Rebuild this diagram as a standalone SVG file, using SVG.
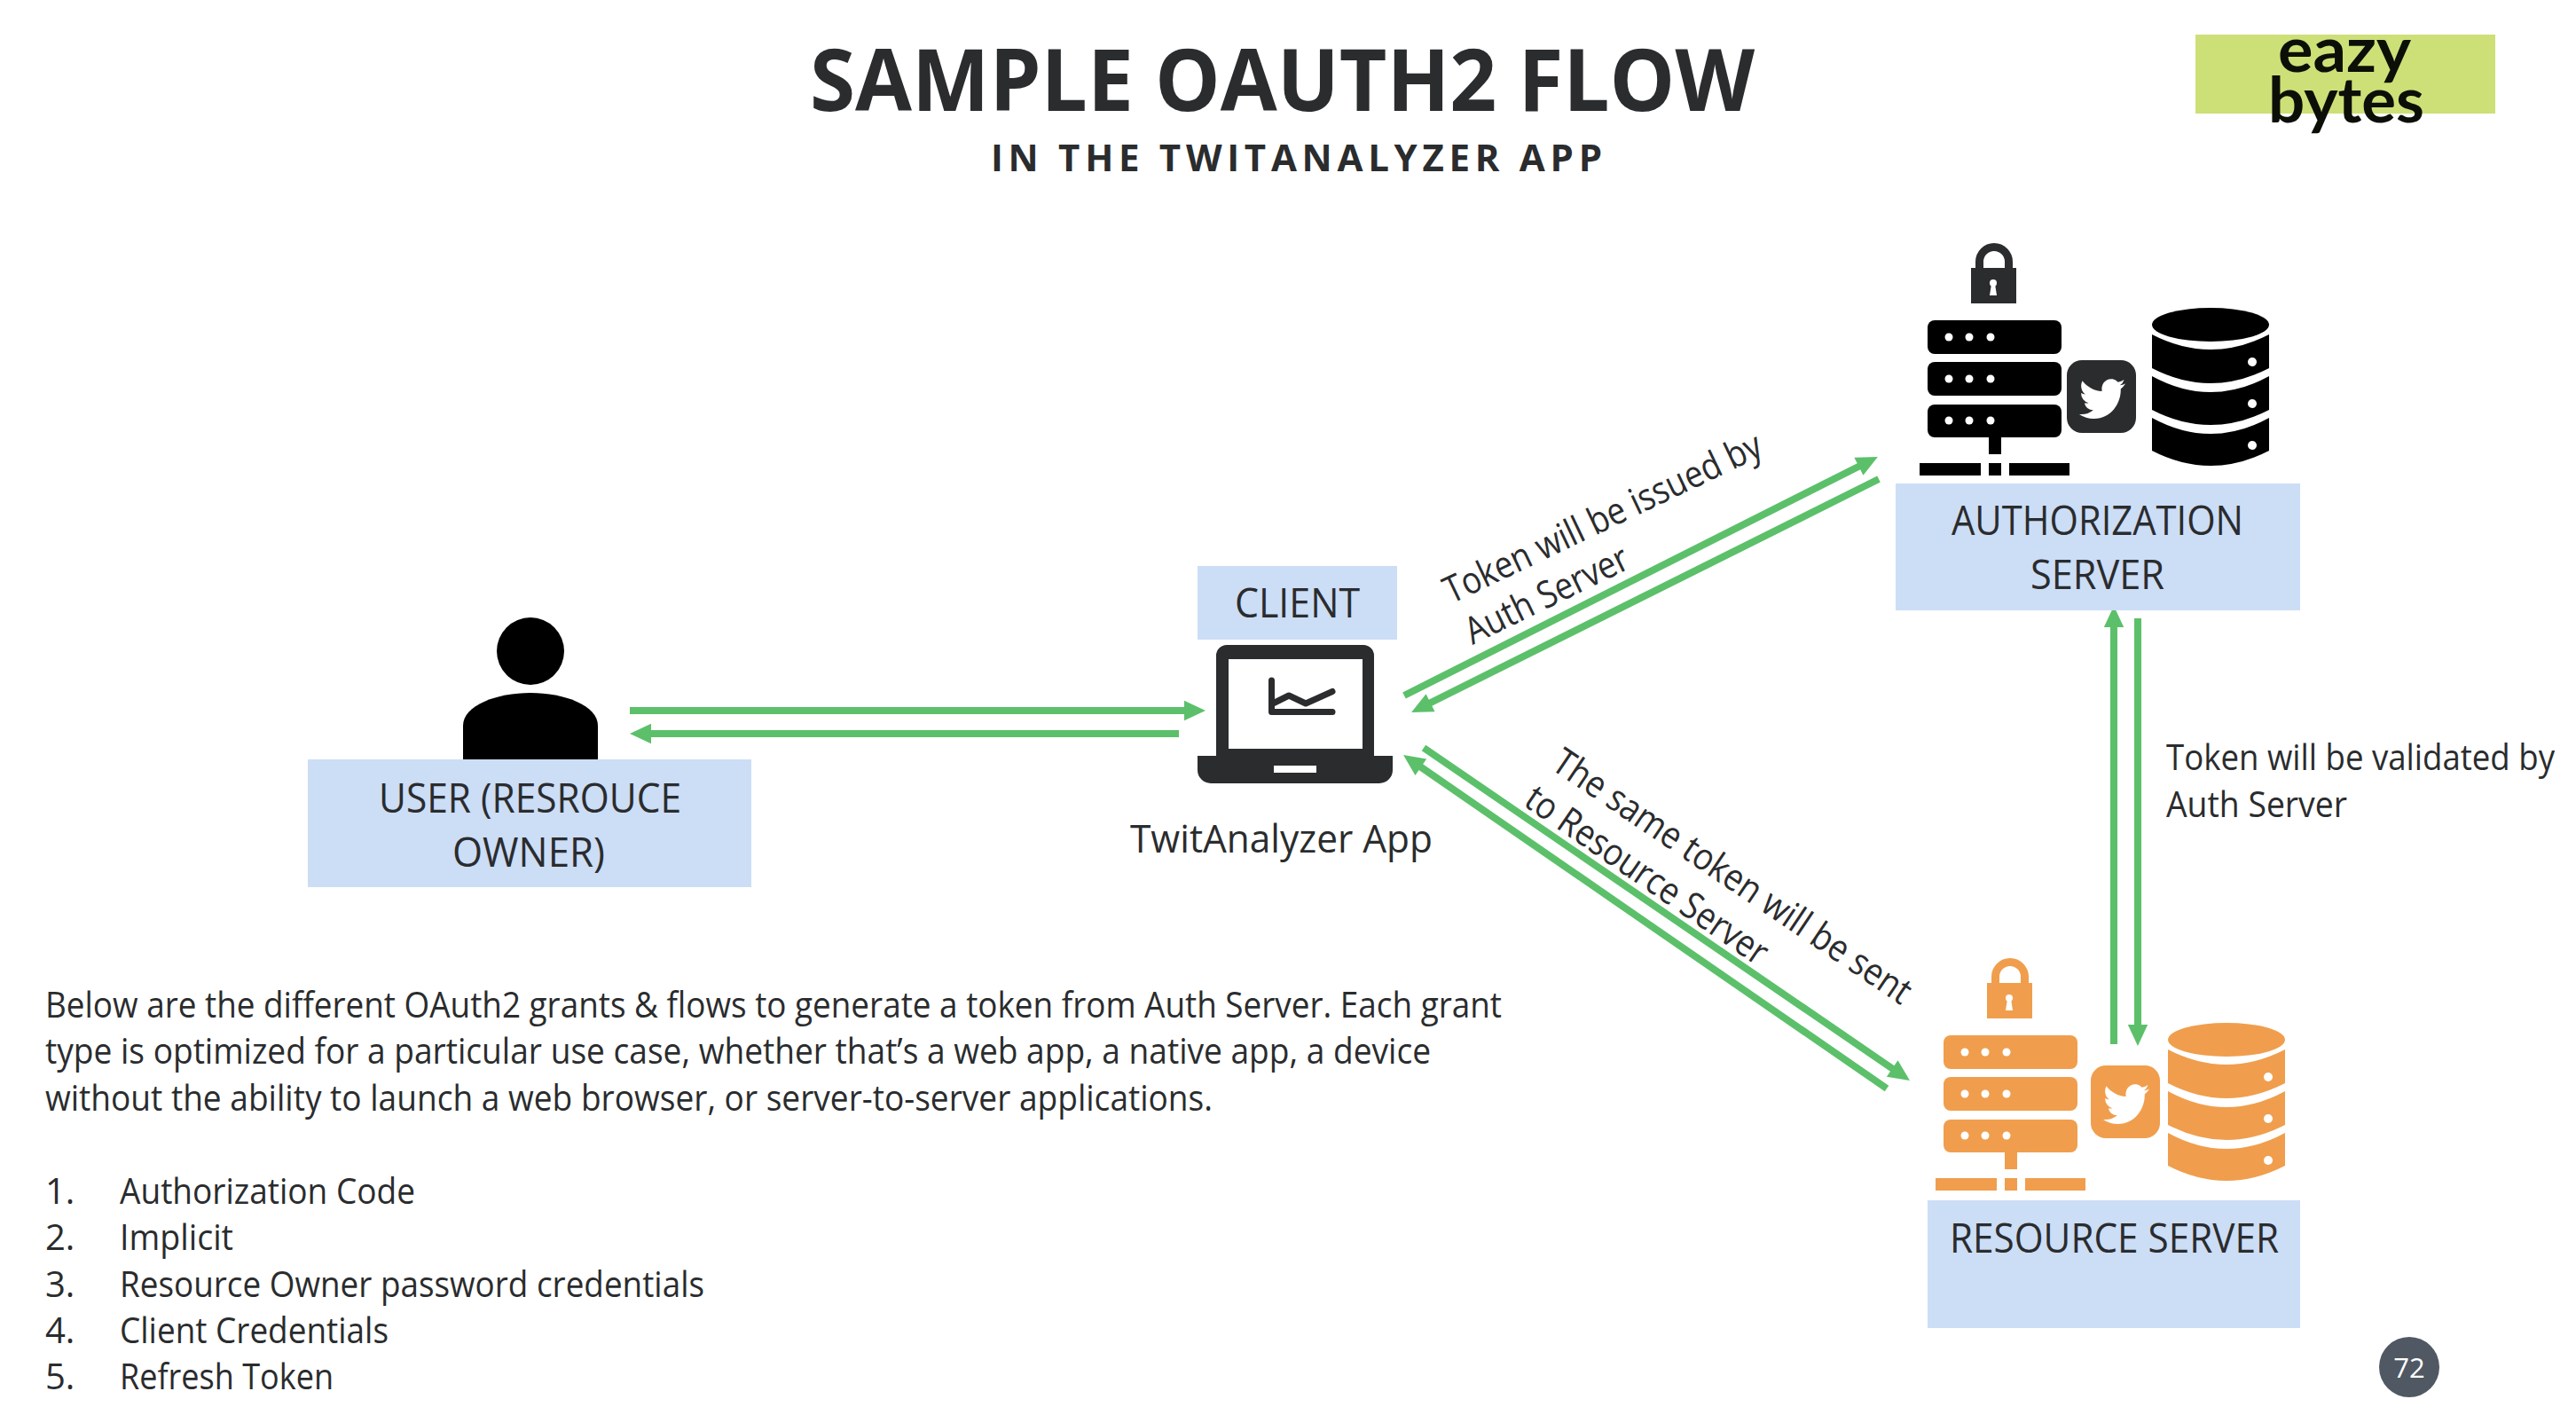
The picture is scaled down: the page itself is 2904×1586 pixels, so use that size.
<svg xmlns="http://www.w3.org/2000/svg" width="2904" height="1586" viewBox="0 0 2904 1586">
<style>
text{font-family:"Open Sans","Liberation Sans",sans-serif;fill:#2a2c2e}
.box{fill:#ccddf6}
.lbl{font-size:46px}
.t{font-size:40px}
.r{font-size:42px}
.cn{fill:none;stroke:#5cc06a;stroke-width:8}
.hd{stroke:none;fill:#5cc06a}
.w{fill:#fff}
</style>
<defs>
<marker id="ah" markerUnits="strokeWidth" markerWidth="3" markerHeight="3" refX="0.5" refY="1.4" orient="auto" overflow="visible"><path class="hd" d="M0,0L3,1.4L0,2.8z"/></marker>
<g id="lock">
<path d="M2231.5,303V295A16.5,16.5 0 0 1 2264.5,295V303" fill="none" stroke="currentColor" stroke-width="9"/>
<rect x="2222" y="302" width="51" height="40" fill="currentColor"/>
<circle class="w" cx="2247" cy="319" r="4"/><path class="w" d="M2245,320L2243,333H2251L2249,320z"/>
</g>
<g id="rack" fill="currentColor">
<rect x="2173" y="361" width="151" height="38" rx="8"/>
<rect x="2173" y="408" width="151" height="38" rx="8"/>
<rect x="2173" y="456" width="151" height="37" rx="8"/>
<g class="w">
<circle cx="2197" cy="380" r="4.5"/><circle cx="2220" cy="380" r="4.5"/><circle cx="2244" cy="380" r="4.5"/>
<circle cx="2197" cy="427" r="4.5"/><circle cx="2220" cy="427" r="4.5"/><circle cx="2244" cy="427" r="4.5"/>
<circle cx="2197" cy="474" r="4.5"/><circle cx="2220" cy="474" r="4.5"/><circle cx="2244" cy="474" r="4.5"/>
</g>
<rect x="2242" y="493" width="14" height="19"/>
<rect x="2164" y="522" width="69" height="14"/>
<rect x="2242" y="522" width="14" height="14"/>
<rect x="2265" y="522" width="68" height="14"/>
</g>
<g id="db" fill="currentColor">
<ellipse cx="2492" cy="366" rx="66" ry="19"/>
<path d="M2426,377Q2492,411 2558,377V415Q2492,449 2426,415z"/>
<path d="M2426,424Q2492,460 2558,424V462Q2492,496 2426,462z"/>
<path d="M2426,471Q2492,507 2558,471V508Q2492,542 2426,508z"/>
<g class="w"><circle cx="2539" cy="408" r="5"/><circle cx="2539" cy="455" r="5"/><circle cx="2539" cy="502" r="5"/></g>
</g>
<g id="tw">
<rect x="2330" y="406" width="78" height="82" rx="17" fill="currentColor"/>
<path class="w" transform="translate(2344,422) scale(2.17,2.3)" d="M23.953 4.57a10 10 0 01-2.825.775 4.958 4.958 0 002.163-2.723c-.951.555-2.005.959-3.127 1.184a4.92 4.92 0 00-8.384 4.482C7.69 8.095 4.067 6.13 1.64 3.162a4.822 4.822 0 00-.666 2.475c0 1.71.87 3.213 2.188 4.096a4.904 4.904 0 01-2.228-.616v.06a4.923 4.923 0 003.946 4.827 4.996 4.996 0 01-2.212.085 4.936 4.936 0 004.604 3.417 9.867 9.867 0 01-6.102 2.105c-.39 0-.779-.023-1.17-.067a13.995 13.995 0 007.557 2.209c9.053 0 13.998-7.496 13.998-13.985 0-.21 0-.42-.015-.63A9.935 9.935 0 0024 4.59z"/>
</g>
</defs>

<rect width="2904" height="1586" fill="#fff"/>

<g id="title">
<text x="913" y="125" font-size="96" font-weight="700" textLength="1065" lengthAdjust="spacingAndGlyphs">SAMPLE OAUTH2 FLOW</text>
<text x="1117" y="193" font-size="42" font-weight="700" textLength="689" lengthAdjust="spacing">IN THE TWITANALYZER APP</text>
</g>

<g id="logo">
<rect x="2475" y="39" width="338" height="89" fill="#cde077"/>
<text x="2568" y="81" font-size="70" font-weight="700" style="font-family:Lato,sans-serif;fill:#0c0f08" textLength="150" lengthAdjust="spacingAndGlyphs">eazy</text>
<text x="2557" y="138" font-size="70" font-weight="700" style="font-family:Lato,sans-serif;fill:#0c0f08" textLength="176" lengthAdjust="spacingAndGlyphs">bytes</text>
</g>

<g id="connectors">
<path class="cn" marker-end="url(#ah)" d="M710,801H1339"/>
<path class="cn" marker-end="url(#ah)" d="M1329,827H730"/>
<path class="cn" marker-end="url(#ah)" d="M1583,784L2099,524"/>
<path class="cn" marker-end="url(#ah)" d="M2118,540L1609,794"/>
<path class="cn" marker-end="url(#ah)" d="M1605,843L2136.5,1206.7"/>
<path class="cn" marker-end="url(#ah)" d="M2127,1227L1598.5,862.4"/>
<path class="cn" marker-end="url(#ah)" d="M2383,1177V703"/>
<path class="cn" marker-end="url(#ah)" d="M2410,697V1159"/>
</g>

<g id="user">
<ellipse cx="598" cy="734" rx="38" ry="38"/>
<path d="M522,857V818C522,795 560,781 598,781C636,781 674,795 674,818V857z"/>
<rect class="box" x="347" y="856" width="500" height="144"/>
<text class="lbl" x="427" y="916" textLength="341" lengthAdjust="spacingAndGlyphs">USER (RESROUCE</text>
<text class="lbl" x="510" y="977" textLength="172" lengthAdjust="spacingAndGlyphs">OWNER)</text>
</g>

<g id="client">
<rect class="box" x="1350" y="638" width="225" height="83"/>
<text class="lbl" x="1392" y="696" textLength="141" lengthAdjust="spacingAndGlyphs">CLIENT</text>
<path fill="#2a2c2d" fill-rule="evenodd" d="M1371,852V739a12,12 0 0 1 12,-12H1537a12,12 0 0 1 12,12V852H1570V868a15,15 0 0 1 -15,15H1365a15,15 0 0 1 -15,-15V852zM1385,743V844H1536V743zM1436,863V871H1484V863z"/>
<path d="M1433.500,767V802.500H1502M1437,792L1453,784L1472,793L1502,779.500" fill="none" stroke="#2a2c2d" stroke-width="7" stroke-linecap="round" stroke-linejoin="round"/>
<text x="1274" y="961" font-size="44" textLength="341" lengthAdjust="spacingAndGlyphs">TwitAnalyzer App</text>
</g>

<g id="auth-server">
<use href="#lock" style="color:#2a2c2d"/>
<use href="#rack" style="color:#000"/>
<use href="#tw" style="color:#2a2c2d"/>
<use href="#db" style="color:#000"/>
<rect class="box" x="2137" y="545" width="456" height="143"/>
<text class="lbl" x="2200" y="603" textLength="329" lengthAdjust="spacingAndGlyphs">AUTHORIZATION</text>
<text class="lbl" x="2289" y="664" textLength="151" lengthAdjust="spacingAndGlyphs">SERVER</text>
</g>

<g id="resource-server" style="color:#f09e4d">
<use href="#lock" transform="translate(18,806)"/>
<use href="#rack" transform="translate(18,806)"/>
<use href="#tw" transform="translate(27,795)"/>
<use href="#db" transform="translate(18,806)"/>
<rect class="box" x="2173" y="1353" width="420" height="144"/>
<text class="lbl" x="2198" y="1412" textLength="371" lengthAdjust="spacingAndGlyphs">RESOURCE SERVER</text>
</g>

<g id="edge-labels">
<text class="r" transform="translate(1636,681) rotate(-25.500)" textLength="392" lengthAdjust="spacingAndGlyphs">Token will be issued by</text>
<text class="r" transform="translate(1660,727) rotate(-26)" textLength="200" lengthAdjust="spacingAndGlyphs">Auth Server</text>
<text class="r" transform="translate(1747,866) rotate(34)" textLength="478" lengthAdjust="spacingAndGlyphs">The same token will be sent</text>
<text class="r" transform="translate(1716,907) rotate(34.500)" textLength="322" lengthAdjust="spacingAndGlyphs">to Resource Server</text>
<text class="t" x="2442" y="868" textLength="438" lengthAdjust="spacingAndGlyphs">Token will be validated by</text>
<text class="t" x="2442" y="921" textLength="204" lengthAdjust="spacingAndGlyphs">Auth Server</text>
</g>

<g id="description">
<text class="t" x="51" y="1147" textLength="1642" lengthAdjust="spacingAndGlyphs">Below are the different OAuth2 grants &amp; flows to generate a token from Auth Server. Each grant</text>
<text class="t" x="51" y="1199" textLength="1562" lengthAdjust="spacingAndGlyphs">type is optimized for a particular use case, whether that’s a web app, a native app, a device</text>
<text class="t" x="51" y="1252" textLength="1316" lengthAdjust="spacingAndGlyphs">without the ability to launch a web browser, or server-to-server applications.</text>
<text class="t" x="51" y="1357">1.</text><text class="t" x="135" y="1357" textLength="333" lengthAdjust="spacingAndGlyphs">Authorization Code</text>
<text class="t" x="51" y="1409">2.</text><text class="t" x="135" y="1409" textLength="128" lengthAdjust="spacingAndGlyphs">Implicit</text>
<text class="t" x="51" y="1462">3.</text><text class="t" x="135" y="1462" textLength="659" lengthAdjust="spacingAndGlyphs">Resource Owner password credentials</text>
<text class="t" x="51" y="1514">4.</text><text class="t" x="135" y="1514" textLength="303" lengthAdjust="spacingAndGlyphs">Client Credentials</text>
<text class="t" x="51" y="1566">5.</text><text class="t" x="135" y="1566" textLength="241" lengthAdjust="spacingAndGlyphs">Refresh Token</text>
</g>

<g id="page-number">
<circle cx="2716" cy="1541" r="34" fill="#4f5863"/>
<text x="2716" y="1553" font-size="31" text-anchor="middle" style="fill:#fff">72</text>
</g>
</svg>
